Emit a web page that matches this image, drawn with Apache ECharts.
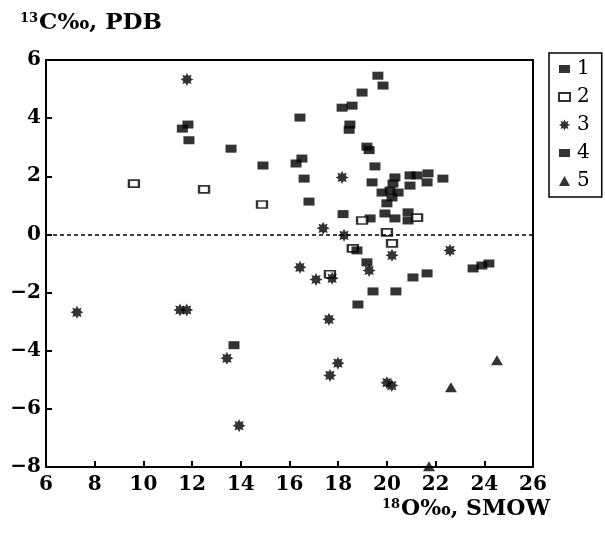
<!DOCTYPE html>
<html>
<head>
<meta charset="utf-8">
<script src="https://cdn.jsdelivr.net/npm/echarts@6/dist/echarts.min.js"></script>
<style>html,body{margin:0;padding:0;background:#fff}#c{width:605px;height:536px}</style>
</head>
<body>
<div id="c"></div>
<script>
// ---- data (x = δ18O ‰ SMOW, y = δ13C ‰ PDB) ----
var seriesNames = ['1', '2', '3', '4', '5'];
var xTicks = [6, 8, 10, 12, 14, 16, 18, 20, 22, 24, 26];
var yTicks = [-8, -6, -4, -2, 0, 2, 4, 6];
var s1 = [[11.6,3.64],[11.83,3.78],[11.87,3.24],[13.6,2.95],[14.91,2.37],[16.43,4.02],[16.51,2.61],[16.27,2.44],[16.6,1.92],[16.8,1.13],[18.2,0.7],[18.16,4.36],[18.57,4.43],[18.48,3.78],[18.45,3.6],[19.63,5.46],[19.84,5.12],[18.98,4.88],[19.18,3.02],[19.27,2.9],[19.51,2.34],[19.39,1.79],[20.33,1.96],[20.95,2.03],[21.24,2.03],[21.69,2.1],[22.3,1.92],[21.65,1.79],[20.95,1.68],[20.25,1.75],[20.13,1.51],[20.46,1.44],[19.8,1.44],[20.21,1.27],[20.0,1.07],[19.92,0.72],[20.33,0.55],[20.87,0.76],[20.87,0.48],[19.31,0.55]];
var s2 = [[9.61,1.75],[12.49,1.55],[14.87,1.03],[18.98,0.48],[20.0,0.07],[20.21,-0.31],[21.24,0.58],[18.6,-0.48],[17.66,-1.37]];
var s3 = [[7.27,-2.68],[11.79,5.33],[11.5,-2.6],[11.78,-2.6],[13.43,-4.26],[13.93,-6.58],[17.62,-2.92],[17.99,-4.43],[17.66,-4.85],[16.43,-1.13],[17.09,-1.55],[17.75,-1.51],[18.16,1.96],[17.38,0.21],[18.24,-0.03],[22.59,-0.55],[20.21,-0.72],[19.27,-1.24],[20.0,-5.1],[20.2,-5.2]];
var s4 = [[18.77,-0.55],[19.18,-0.96],[21.07,-1.48],[21.65,-1.34],[19.43,-1.96],[20.37,-1.96],[18.81,-2.41],[23.54,-1.17],[23.9,-1.07],[24.19,-1.0],[13.72,-3.81]];
var s5 = [[22.63,-5.26],[24.52,-4.33],[21.73,-7.97]];

function starPath(n, r1, r2) {
  var d = '';
  for (var i = 0; i < 2 * n; i++) {
    var a = i * Math.PI / n - Math.PI / 2;
    var r = (i % 2) ? r2 : r1;
    d += (i ? 'L' : 'M') + (50 + 50 * r * Math.cos(a)).toFixed(2) + ' ' + (50 + 50 * r * Math.sin(a)).toFixed(2);
  }
  return 'path://' + d + 'Z';
}
var star = starPath(8, 1, 0.6);
var rectIcon = 'path://M0 0L11 0L11 8L0 8Z';
var triIcon = 'path://M5 0L10 9L0 9Z';
var serif = 'DejaVu Serif';

var chart = echarts.init(document.getElementById('c'));
chart.setOption({
  animation: false,
  backgroundColor: '#fff',
  grid: { left: 46, right: 72, top: 60, bottom: 69, show: true, borderColor: '#000', borderWidth: 2, backgroundColor: 'transparent' },
  xAxis: {
    type: 'value', min: xTicks[0], max: xTicks[xTicks.length - 1], interval: 2,
    axisLine: { show: true, onZero: false, lineStyle: { color: '#000', width: 2 } },
    axisTick: { show: true, inside: true, length: 6, lineStyle: { color: '#000', width: 2 } },
    axisLabel: { color: '#000', fontFamily: serif, fontSize: 20, fontWeight: 'bold', margin: 8 },
    splitLine: { show: false }
  },
  yAxis: {
    type: 'value', min: yTicks[0], max: yTicks[yTicks.length - 1], interval: 2,
    axisLine: { show: true, onZero: false, lineStyle: { color: '#000', width: 2 } },
    axisTick: { show: true, inside: true, length: 6, lineStyle: { color: '#000', width: 2 } },
    axisLabel: { color: '#000', fontFamily: serif, fontSize: 20, fontWeight: 'bold', margin: 5,
      formatter: function (v) { return v < 0 ? '\u2212' + (-v) : String(v); } },
    splitLine: { show: false }
  },
  legend: {
    orient: 'vertical', left: 549, top: 53, width: 54,
    borderColor: '#000', borderWidth: 1.5, padding: [6, 12, 6, 9],
    itemWidth: 11, itemHeight: 11, itemGap: 8,
    textStyle: { fontFamily: serif, fontSize: 20, color: '#000', padding: [0, 0, 0, 2] },
    data: [
      { name: '1', icon: rectIcon },
      { name: '2', icon: rectIcon },
      { name: '3', icon: star },
      { name: '4', icon: rectIcon },
      { name: '5', icon: triIcon }
    ]
  },
  graphic: [
    { type: 'text', left: 20, top: 12, style: {
      text: '{s|13}{n|C\u2030, PDB}', fill: '#000',
      rich: { s: { fontFamily: serif, fontSize: 13, fontWeight: 'bold', padding: [0, 1, 9, 0], fill: '#000' }, n: { fontFamily: serif, fontSize: 23, fontWeight: 'bold', fill: '#000' } } } },
    { type: 'text', left: 382, top: 498, style: {
      text: '{s|18}{n|O\u2030, SMOW}', fill: '#000',
      rich: { s: { fontFamily: serif, fontSize: 13, fontWeight: 'bold', padding: [0, 1, 9, 0], fill: '#000' }, n: { fontFamily: serif, fontSize: 22, fontWeight: 'bold', fill: '#000' } } } }
  ],
  series: [
    { name: seriesNames[0], type: 'scatter', data: s1, symbol: 'rect', symbolSize: [11, 8], clip: false,
      itemStyle: { color: '#000' },
      markLine: { silent: true, symbol: 'none', label: { show: false },
        lineStyle: { color: '#000', type: [4, 3], width: 1.5 }, data: [{ yAxis: 0 }] } },
    { name: seriesNames[1], type: 'scatter', data: s2, symbol: 'rect', symbolSize: [10, 7], clip: false,
      itemStyle: { color: '#fff', borderColor: '#000', borderWidth: 2 } },
    { name: seriesNames[2], type: 'scatter', data: s3, symbol: star, symbolSize: 13, clip: false,
      itemStyle: { color: '#000' } },
    { name: seriesNames[3], type: 'scatter', data: s4, symbol: 'rect', symbolSize: [11, 8], clip: false,
      itemStyle: { color: '#000' } },
    { name: seriesNames[4], type: 'scatter', data: s5, symbol: 'triangle', symbolSize: [12, 10], clip: false,
      itemStyle: { color: '#000' } }
  ]
});
</script>
</body>
</html>
